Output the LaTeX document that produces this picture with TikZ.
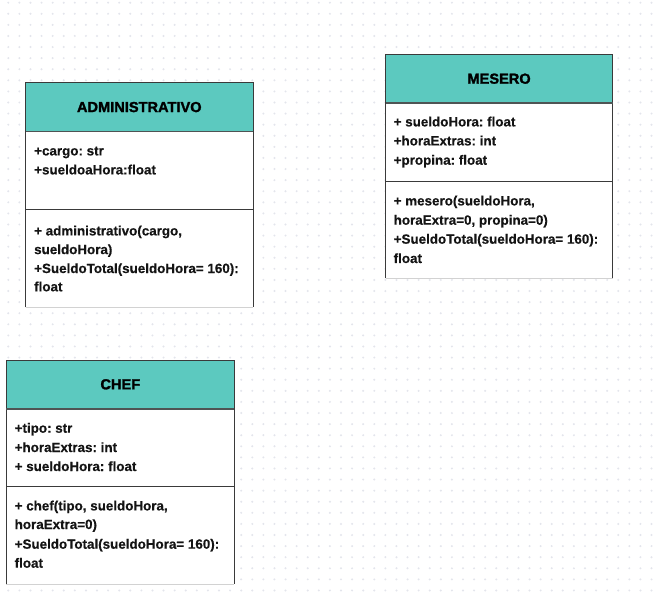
\documentclass[tikz,border=0pt]{standalone}
\usepackage{fontspec}
\setmainfont{Liberation Sans}
\newfontfamily\hdrfont[FakeBold=1.6]{Liberation Sans}
\newfontfamily\bodyfont[FakeBold=0.4]{Liberation Sans}
\frenchspacing
\definecolor{hdrfill}{HTML}{5CC9BF}
\definecolor{dotc}{HTML}{E3E5EC}
\definecolor{edge}{HTML}{3A3A3A}
\definecolor{hline}{HTML}{4F5454}
\tikzset{
  boxbody/.style={fill=white, draw=none, inner sep=0pt, anchor=north west},
  hdr/.style={fill=hdrfill, draw=none, inner sep=0pt, anchor=north west,
    font=\hdrfont\fontsize{14.6}{16}\selectfont\bfseries, text=black},
  border/.style={draw=edge, line width=0.9pt},
  hsep/.style={draw=hline, line width=1.6pt},
  dsep/.style={draw=edge, line width=0.9pt},
  bottomline/.style={draw=gray!35, line width=0.6pt},
  txt/.style={anchor=base west, inner sep=0pt,
    font=\bodyfont\fontsize{13.4}{16}\selectfont\bfseries, text=black!92}
}
\begin{document}
\begin{tikzpicture}[x=1pt,y=-1pt]
\useasboundingbox (0,0) rectangle (655,593);
\fill[white] (0,0) rectangle (655,593);
% dot grid
\foreach \i in {0,...,58}{
  \foreach \j in {0,...,53}{
    \fill[dotc] ({8.3+\i*11.09},{2.7+\j*11.09}) circle (1.1);
  }
}
% ---------- ADMINISTRATIVO ----------
\node[boxbody, minimum width=227.2pt, minimum height=224.3pt] (admin) at (25.5,82.7) {};
\node[hdr, minimum width=227.2pt, minimum height=48.3pt] (adminH) at (25.5,82.7) {ADMINISTRATIVO};
\draw[border] (admin.south west) -- (admin.north west) -- (admin.north east) -- (admin.south east);
\draw[bottomline] (admin.south west) -- (admin.south east);
\draw[hsep] (adminH.south west) -- (adminH.south east);
\coordinate (adminD) at (25.5,209.7);
\draw[dsep] (adminD) -- (adminD -| admin.east);
\node[txt] (a1) at (34,155.4) {+cargo: str};
\node[txt] (a2) at (34,174.4) {+sueldoaHora:float};
\node[txt] (a3) at (34,235.4) {+ administrativo(cargo,};
\node[txt] (a4) at (34,254.1) {sueldoHora)};
\node[txt] (a5) at (34,273.0) {+SueldoTotal(sueldoHora= 160):};
\node[txt] (a6) at (34,291.3) {float};
% ---------- MESERO ----------
\node[boxbody, minimum width=226.8pt, minimum height=223.7pt] (mes) at (385.5,54.3) {};
\node[hdr, minimum width=226.8pt, minimum height=48.4pt] (mesH) at (385.5,54.3) {MESERO};
\draw[border] (mes.south west) -- (mes.north west) -- (mes.north east) -- (mes.south east);
\draw[bottomline] (mes.south west) -- (mes.south east);
\draw[hsep] (mesH.south west) -- (mesH.south east);
\coordinate (mesD) at (385.5,181);
\draw[dsep] (mesD) -- (mesD -| mes.east);
\node[txt] (m1) at (393.5,126.4) {+ sueldoHora: float};
\node[txt] (m2) at (393.5,145.4) {+horaExtras: int};
\node[txt] (m3) at (393.5,164.7) {+propina: float};
\node[txt] (m4) at (393.5,205.4) {+ mesero(sueldoHora,};
\node[txt] (m5) at (393.5,224.7) {horaExtra=0, propina=0)};
\node[txt] (m6) at (393.5,243.7) {+SueldoTotal(sueldoHora= 160):};
\node[txt] (m7) at (393.5,263.0) {float};
% ---------- CHEF ----------
\node[boxbody, minimum width=227.7pt, minimum height=223.5pt] (chef) at (6.3,360) {};
\node[hdr, minimum width=227.7pt, minimum height=48.3pt] (chefH) at (6.3,360) {CHEF};
\draw[border] (chef.south west) -- (chef.north west) -- (chef.north east) -- (chef.south east);
\draw[bottomline] (chef.south west) -- (chef.south east);
\draw[hsep] (chefH.south west) -- (chefH.south east);
\coordinate (chefD) at (6.3,486);
\draw[dsep] (chefD) -- (chefD -| chef.east);
\node[txt] (c1) at (14.5,432.7) {+tipo: str};
\node[txt] (c2) at (14.5,452.0) {+horaExtras: int};
\node[txt] (c3) at (14.5,471.0) {+ sueldoHora: float};
\node[txt] (c4) at (14.5,510.4) {+ chef(tipo, sueldoHora,};
\node[txt] (c5) at (14.5,529.0) {horaExtra=0)};
\node[txt] (c6) at (14.5,548.7) {+SueldoTotal(sueldoHora= 160):};
\node[txt] (c7) at (14.5,567.7) {float};
\end{tikzpicture}
\end{document}
